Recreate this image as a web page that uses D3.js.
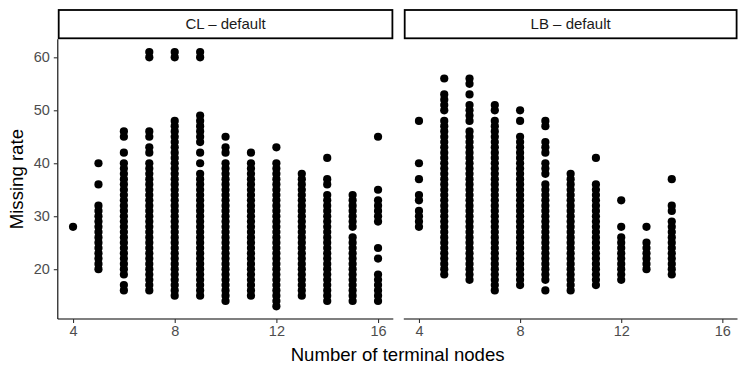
<!DOCTYPE html>
<html>
<head>
<meta charset="utf-8">
<script src="https://cdn.jsdelivr.net/npm/d3@7"></script>
<style>
  html, body { margin: 0; padding: 0; background: #fff; }
  svg { display: block; font-family: "Liberation Sans", Arial, Helvetica, sans-serif; }
</style>
</head>
<body>
<svg id="chart" width="747" height="374"></svg>
<script>
// ---- Data ----
const panels = ["CL – default", "LB – default"];
const terminalNodes = [4, 5, 6, 7, 8, 9, 10, 11, 12, 13, 14, 15, 16];
const xTicks = [4, 8, 12, 16];
const yTicks = [20, 30, 40, 50, 60];

// Missing-rate values observed in each column (one list per terminal-node count)
const clMissing = [
  [28],
  [20,21,22,23,24,25,26,27,28,29,30,31,32,36,40],
  [16,17,19,20,21,22,23,24,25,26,27,28,29,30,31,32,33,34,35,36,37,38,39,40,42,45,46],
  [16,17,18,19,20,21,22,23,24,25,26,27,28,29,30,31,32,33,34,35,36,37,38,39,40,42,43,45,46,60,61],
  [15,16,17,18,19,20,21,22,23,24,25,26,27,28,29,30,31,32,33,34,35,36,37,38,39,40,41,42,43,44,45,46,47,48,60,61],
  [15,16,17,18,19,20,21,22,23,24,25,26,27,28,29,30,31,32,33,34,35,36,37,38,40,42,44,45,46,47,48,49,60,61],
  [14,15,16,17,18,19,20,21,22,23,24,25,26,27,28,29,30,31,32,33,34,35,36,37,38,39,40,42,43,45],
  [15,16,17,18,19,20,21,22,23,24,25,26,27,28,29,30,31,32,33,34,35,36,37,38,39,40,42],
  [13,14,15,16,17,18,19,20,21,22,23,24,25,26,27,28,29,30,31,32,33,34,35,36,37,38,39,40,43],
  [15,16,17,18,19,20,21,22,23,24,25,26,27,28,29,30,31,32,33,34,35,36,37,38],
  [14,15,16,17,18,19,20,21,22,23,24,25,26,27,28,29,30,31,32,33,34,36,37,41],
  [14,15,16,17,18,19,20,21,22,23,24,25,26,28,29,30,31,32,33,34],
  [14,15,16,17,18,19,22,24,29,30,31,32,33,35,45]
];
const lbMissing = [
  [28,29,30,31,33,34,37,40,48],
  [19,20,21,22,23,24,25,26,27,28,29,30,31,32,33,34,35,36,37,38,39,40,41,42,43,44,45,46,47,48,50,51,52,53,56],
  [18,19,20,21,22,23,24,25,26,27,28,29,30,31,32,33,34,35,36,37,38,39,40,41,42,43,44,45,46,48,49,50,51,53,55,56],
  [16,17,18,19,20,21,22,23,24,25,26,27,28,29,30,31,32,33,34,35,36,37,38,39,40,41,42,43,44,45,46,47,48,50,51],
  [17,18,19,20,21,22,23,24,25,26,27,28,29,30,31,32,33,34,35,36,37,38,39,40,41,42,43,44,45,48,50],
  [16,18,19,20,21,22,23,24,25,26,27,28,29,30,31,32,33,34,35,36,38,39,40,42,43,44,47,48],
  [16,17,18,19,20,21,22,23,24,25,26,27,28,29,30,31,32,33,34,35,36,37,38],
  [17,18,19,20,21,22,23,24,25,26,27,28,29,30,31,32,33,34,35,36,41],
  [18,19,20,21,22,23,24,25,26,28,33],
  [20,21,22,23,24,25,28],
  [19,20,21,22,23,24,25,26,27,28,29,31,32,37],
  [],
  []
];
const panelValues = [clMissing, lbMissing];

// ---- Layout ----
const svg = d3.select("#chart");
const panelTop = 39.3, panelBottom = 319;
const panelRanges = [[57.8, 393.3], [403.8, 737.5]];
const y = d3.scaleLinear().domain([10.6, 63.4]).range([panelBottom, panelTop]);

const tickColor = "#333333", labelColor = "#4D4D4D";

panels.forEach((name, pi) => {
  const [x0, x1] = panelRanges[pi];
  const x = d3.scaleLinear().domain([3.4, 16.6]).range([x0, x1]);
  const g = svg.append("g");

  // points
  const pts = [];
  terminalNodes.forEach((n, i) => {
    (panelValues[pi][i] || []).forEach(v => pts.push({n, v}));
  });
  g.append("g").selectAll("circle").data(pts).join("circle")
    .attr("cx", d => x(d.n)).attr("cy", d => y(d.v)).attr("r", 4.1)
    .attr("fill", "#000");

  // x axis
  const xAxis = g.append("g").attr("transform", `translate(0,${panelBottom})`)
    .call(d3.axisBottom(x).tickValues(xTicks).tickSize(4).tickPadding(3).tickFormat(d3.format("d")));
  xAxis.select(".domain").attr("d", `M${x0},0H${x1}`).attr("stroke", "#000").attr("stroke-width", 1.1);
  xAxis.selectAll(".tick line").attr("stroke", tickColor).attr("stroke-width", 1.1);
  xAxis.selectAll(".tick text").attr("fill", labelColor).style("font-size", "14.5px")
    .style("font-family", "Liberation Sans, Arial, sans-serif");

  // y axis only on first panel
  if (pi === 0) {
    const yAxis = g.append("g").attr("transform", `translate(${x0},0)`)
      .call(d3.axisLeft(y).tickValues(yTicks).tickSize(4).tickPadding(4));
    yAxis.select(".domain").attr("d", `M0,${panelTop}V${panelBottom}`).attr("stroke", "#000").attr("stroke-width", 1.1);
    yAxis.selectAll(".tick line").attr("stroke", tickColor).attr("stroke-width", 1.1);
    yAxis.selectAll(".tick text").attr("fill", labelColor).style("font-size", "14.5px")
      .style("font-family", "Liberation Sans, Arial, sans-serif");
  }

  // strip
  g.append("rect").attr("x", x0 + 0.9).attr("y", 10).attr("width", x1 - x0 - 1.8).attr("height", 28.3)
    .attr("fill", "#fff").attr("stroke", "#000").attr("stroke-width", 1.8);
  g.append("text").attr("x", (x0 + x1) / 2).attr("y", 29.2).attr("text-anchor", "middle")
    .attr("fill", "#1A1A1A").style("font-size", "15px").text(name);
});

// axis titles
svg.append("text").attr("x", (57.8 + 737.5) / 2).attr("y", 361).attr("text-anchor", "middle")
  .attr("fill", "#000").style("font-size", "18.6px").text("Number of terminal nodes");
svg.append("text").attr("transform", `translate(23,${(panelTop + panelBottom) / 2}) rotate(-90)`)
  .attr("text-anchor", "middle").attr("fill", "#000").style("font-size", "18.6px").text("Missing rate");
</script>
</body>
</html>
